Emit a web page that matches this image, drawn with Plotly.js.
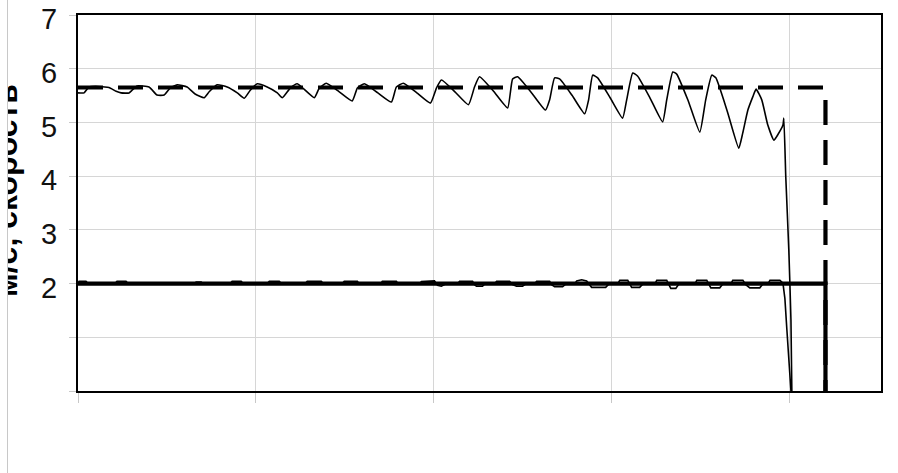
<!DOCTYPE html>
<html>
<head>
<meta charset="utf-8">
<script src="https://cdn.plot.ly/plotly-3.0.1.min.js"></script>
<style>
  html, body { margin: 0; padding: 0; background: #fff; }
  #chart { width: 898px; height: 473px; }
</style>
</head>
<body>
<div id="chart"></div>
<script>
// ---- data ----
const yTitle = "м/с, скорость";
const yTickVals = [0, 1, 2, 3, 4, 5, 6, 7];
const yTickText = ["", "", "2", "3", "4", "5", "6", "7"];
const xTickVals = [0, 100, 200, 300, 400];

// setpoint lines
const setHighT = [0, 420, 420];
const setHighV = [5.65, 5.65, 0];
const setLowT = [0, 420, 420];
const setLowV = [2.0, 2.0, 0];

// measured upper speed
const upperT = [0, 3.4, 6.2, 11.8, 17.4, 21.4, 24.2, 28.7, 30.4, 33.2, 39.9, 44.4, 48.4, 51.8, 55.7, 61.3, 65.8, 70.9, 73.7, 78.2,
  83.8, 89.5, 93.4, 96.8, 100.7, 106.3, 112.0, 114.8, 119.3, 123.2, 132.8, 135.6, 139.5, 146.8, 154.1, 157.0, 160.9, 168.5,
  176.1, 178.9, 182.8, 190.4, 198.0, 201.4, 204.2, 211.8, 219.4, 222.8, 225.6, 233.5, 241.4, 244.2, 247.0, 254.9, 262.7,
  265.0, 267.8, 270.6, 277.7, 284.7, 286.9, 289.2, 292.0, 299.0, 306.0, 308.3, 311.7, 314.5, 321.5, 328.5, 330.8, 334.2,
  336.4, 342.9, 349.4, 352.7, 356.1, 358.4, 364.9, 371.3, 373.5, 376.4, 379.2, 381.0, 384.2, 387.6, 391.0, 393.2, 396.1,
  396.6, 397.7, 399.4, 400.6, 401.1];
const upperV = [5.55, 5.55, 5.66, 5.67, 5.65, 5.58, 5.55, 5.55, 5.60, 5.68, 5.66, 5.51, 5.51, 5.64, 5.70, 5.66, 5.53, 5.46, 5.57, 5.70,
  5.66, 5.55, 5.45, 5.60, 5.72, 5.66, 5.55, 5.46, 5.64, 5.72, 5.46, 5.64, 5.73, 5.57, 5.40, 5.64, 5.72, 5.55,
  5.38, 5.66, 5.73, 5.55, 5.36, 5.64, 5.79, 5.57, 5.33, 5.66, 5.85, 5.58, 5.27, 5.81, 5.85, 5.55, 5.23,
  5.42, 5.83, 5.81, 5.50, 5.16, 5.42, 5.88, 5.83, 5.46, 5.08, 5.42, 5.92, 5.86, 5.45, 5.01, 5.42, 5.94,
  5.90, 5.40, 4.82, 5.42, 5.88, 5.83, 5.20, 4.52, 4.80, 5.23, 5.48, 5.62, 5.42, 4.95, 4.67, 4.77, 4.95,
  5.08, 3.98, 2.63, 1.32, 0];

// measured lower speed
const lowerT = [0, 0.6, 4.5, 5.6, 20.8, 21.9, 27.0, 28.1, 65.3, 66.4, 69.2, 70.3, 85.5, 86.6, 91.7, 92.8, 106.3, 107.5, 113.1, 114.2,
  127.7, 128.8, 136.7, 137.8, 148.5, 149.6, 157.0, 158.1, 169.9, 171.0, 178.9, 180.0, 191.8, 193.0, 200.3, 202.0, 204.2, 206.5,
  213.2, 214.4, 221.7, 222.8, 223.9, 227.3, 228.4, 234.0, 235.2, 242.5, 244.2, 246.4, 249.8, 251.5, 256.5, 257.7, 265.0, 266.1,
  267.8, 272.3, 274.0, 279.0, 280.2, 283.0, 285.8, 287.5, 288.6, 296.5, 298.2, 303.2, 304.4, 308.9, 310.0, 311.1, 315.6, 317.3,
  324.1, 325.2, 330.8, 331.9, 333.1, 335.9, 337.6, 346.6, 347.7, 353.3, 354.4, 355.6, 360.6, 362.3, 366.8, 367.9, 373.6, 375.2,
  377.5, 383.1, 384.8, 387.6, 388.8, 394.4, 396.1, 397.2, 398.3, 399.4, 400.6];
const lowerV = [2.00, 2.04, 2.04, 2.00, 2.00, 2.04, 2.04, 2.00, 2.00, 2.03, 2.03, 2.00, 2.00, 2.04, 2.04, 2.00, 2.00, 2.04, 2.04, 2.00,
  2.00, 2.04, 2.04, 2.00, 2.00, 2.04, 2.04, 1.99, 1.99, 2.04, 2.04, 1.99, 1.99, 2.04, 2.05, 1.97, 1.95, 1.99,
  1.99, 2.04, 2.04, 1.98, 1.95, 1.95, 1.99, 1.99, 2.04, 2.04, 1.98, 1.95, 1.95, 1.99, 1.99, 2.04, 2.04, 1.98,
  1.94, 1.94, 1.99, 1.99, 2.05, 2.07, 2.05, 1.98, 1.93, 1.93, 1.99, 1.99, 2.06, 2.06, 1.98, 1.93, 1.93, 1.99,
  1.99, 2.06, 2.06, 1.98, 1.91, 1.91, 1.99, 1.99, 2.06, 2.06, 1.98, 1.92, 1.92, 1.99, 1.99, 2.06, 2.06, 1.98,
  1.92, 1.92, 1.99, 1.99, 2.06, 2.06, 2.01, 1.72, 1.15, 0.58, 0];

// ---- chart ----
const traces = [
  {x: upperT, y: upperV, mode: "lines", line: {color: "#000", width: 1.6, shape: "spline", smoothing: 0.45}, hoverinfo: "skip"},
  {x: lowerT, y: lowerV, mode: "lines", line: {color: "#000", width: 1.6}, hoverinfo: "skip"},
  {x: setHighT, y: setHighV, mode: "lines", line: {color: "#000", width: 4.2, dash: "25px,15px"}, hoverinfo: "skip"},
  {x: setLowT, y: setLowV, mode: "lines", line: {color: "#000", width: 4.2}, hoverinfo: "skip"}
];

const layout = {
  width: 898, height: 473,
  margin: {l: 78, r: 17, t: 15, b: 82},
  paper_bgcolor: "#fff", plot_bgcolor: "#fff",
  showlegend: false,
  font: {family: "Liberation Sans, Arial, sans-serif", color: "#111"},
  xaxis: {
    range: [0, 451.2], tickvals: xTickVals, showticklabels: false,
    showgrid: true, gridcolor: "#d6d6d6", gridwidth: 1,
    ticks: "outside", ticklen: 10, tickcolor: "#c8c8c8", tickwidth: 1,
    showline: true, linecolor: "#000", linewidth: 2, mirror: true,
    zeroline: false, fixedrange: true
  },
  yaxis: {
    range: [0, 7], tickvals: yTickVals, ticktext: yTickText,
    showgrid: true, gridcolor: "#d6d6d6", gridwidth: 1,
    ticks: "outside", ticklen: 7, tickcolor: "#c8c8c8", tickwidth: 1,
    tickfont: {size: 29, color: "#111"}, ticklabelstandoff: 6, ticklabelshift: 4,
    ticklabeloverflow: "allow",
    showline: true, linecolor: "#000", linewidth: 2, mirror: true,
    zeroline: false, fixedrange: true
  },
  annotations: [
    {text: "<b>" + yTitle + "</b>", xref: "paper", yref: "paper", x: 0, xshift: -52, xanchor: "right",
     y: 0.532, yanchor: "middle", textangle: -90, showarrow: false,
     font: {size: 32, color: "#000", family: "Liberation Sans, Arial, sans-serif"}},
    {text: " ", xref: "paper", yref: "paper", x: 0, xshift: -70, xanchor: "right",
     y: 0.5, yanchor: "middle", width: 40, height: 620, showarrow: false,
     bgcolor: "#fff", bordercolor: "#c8c8c8", borderwidth: 1, borderpad: 0}
  ]
};

Plotly.newPlot("chart", traces, layout, {staticPlot: true, displayModeBar: false});
</script>
</body>
</html>
